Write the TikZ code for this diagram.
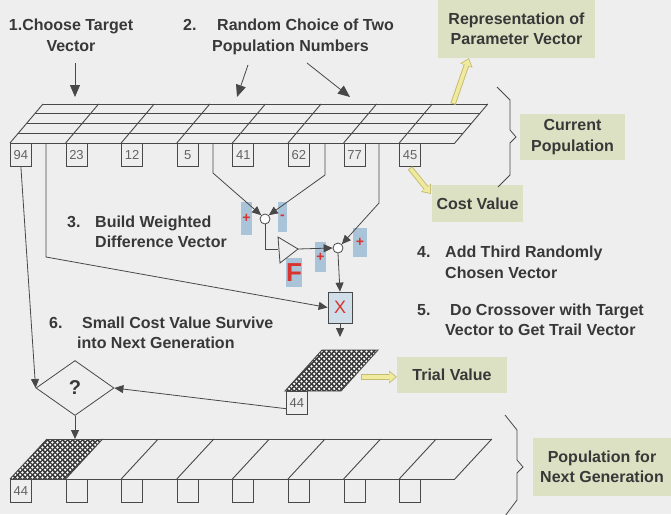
\documentclass[tikz,border=0pt]{standalone}
\usepackage{fontspec}
\setmainfont{Liberation Sans}
\usetikzlibrary{arrows.meta,shapes.geometric,patterns.meta}

\definecolor{bgc}{HTML}{EEEEEE}
\definecolor{ink}{HTML}{383838}
\definecolor{wire}{HTML}{484848}
\definecolor{tagc}{HTML}{DDE1C3}
\definecolor{sig}{HTML}{A9C3D8}
\definecolor{rd}{HTML}{D8332E}
\definecolor{yfill}{HTML}{EFEA9E}
\definecolor{yedge}{HTML}{C4BC72}
\definecolor{meshdark}{HTML}{3A3A3A}

% dense white-dot mesh used for the selected (trial) vector cells
\tikzdeclarepattern{
  name=mesh,
  type=uncolored,
  bounding box={(0pt,0pt) and (4.8pt,4.8pt)},
  tile size={(4.8pt,4.8pt)},
  code={
    \fill (1.2pt,1.2pt) circle (1.3pt);
    \fill (3.6pt,3.6pt) circle (1.3pt);
  }
}

\tikzset{
  gridline/.style={draw=wire, line width=0.9pt},
  wirel/.style={draw=wire, line width=0.8pt},
  arr/.style={wirel, -{Triangle[length=9pt,width=8pt]}},
  bigarr/.style={wirel, -{Triangle[length=12pt,width=10pt]}},
  cost/.style={draw=wire, line width=0.8pt, minimum width=21pt, minimum height=23pt,
    inner sep=0pt, font=\fontsize{13}{13}\selectfont, text=wire!85},
  tag/.style={fill=tagc, inner sep=0pt, align=center,
    font=\bfseries\fontsize{16}{20.5}\selectfont, text=ink},
  txt/.style={inner sep=0pt, font=\bfseries\fontsize{16}{20}\selectfont, text=ink},
  sum/.style={circle, draw=wire, fill=white, line width=0.8pt, minimum size=10pt, inner sep=0pt},
  sgn/.style={fill=sig, inner sep=0pt, text=rd, font=\bfseries\fontsize{14}{14}\selectfont},
  youter/.style={line width=5.5pt, yedge, -{Triangle[length=8pt,width=12.5pt]}},
  yinner/.style={line width=3.6pt, yfill, shorten >=1.3pt, shorten <=0.9pt,
    -{Triangle[length=6.3pt,width=9.6pt]}},
  dia/.style={diamond, draw=wire, line width=0.8pt, minimum width=78pt, minimum height=55pt,
    inner sep=0pt, text=ink, font=\bfseries\fontsize{20}{20}\selectfont}
}

\begin{document}
\begin{tikzpicture}[x=1pt,y=-1pt]
\fill[bgc] (0,0) rectangle (671,514);
\useasboundingbox (0,0) rectangle (671,514);

% ---------- current population: 8 vectors, 4 parameters each ----------
\foreach \t in {0,0.25,0.5,0.75,1}
  \draw[gridline] ({10+33*\t},{143-39*\t}) -- ({454.8+33*\t},{143-39*\t});
\foreach \k in {0,...,8}
  \draw[gridline] ({10+55.6*\k},143) -- ({43+55.6*\k},104);
\foreach \i/\v in {0/94,1/23,2/12,3/5,4/41,5/62,6/77,7/45}
  \node[cost, anchor=north west] (c\i) at ({10+55.6*\i},143) {\v};

% ---------- text blocks ----------
\node[txt, anchor=base] (h1a) at (71,30) {1.Choose Target};
\node[txt, anchor=base] (h1b) at (71,51) {Vector};
\node[txt, anchor=base west] (h2n) at (183,30) {2.};
\node[txt, anchor=base west] (h2a) at (217,30) {Random Choice of Two};
\node[txt, anchor=base west] (h2b) at (212,51) {Population Numbers};

\node[txt, anchor=base west] (h3n) at (67,227) {3.};
\node[txt, anchor=base west] (h3a) at (95,227) {Build Weighted};
\node[txt, anchor=base west] (h3b) at (95,247) {Difference Vector};

\node[txt, anchor=base west] (h4n) at (417,257) {4.};
\node[txt, anchor=base west] (h4a) at (445,257) {Add Third Randomly};
\node[txt, anchor=base west] (h4b) at (445,278) {Chosen Vector};

\node[txt, anchor=base west] (h5n) at (417,315) {5.};
\node[txt, anchor=base west] (h5a) at (450,315) {Do Crossover with Target};
\node[txt, anchor=base west] (h5b) at (445,335) {Vector to Get Trail Vector};

\node[txt, anchor=base west] (h6n) at (49,328) {6.};
\node[txt, anchor=base west] (h6a) at (82,328) {Small Cost Value Survive};
\node[txt, anchor=base west] (h6b) at (77,348) {into Next Generation};

% ---------- highlighted tags ----------
\node[tag, minimum width=157pt, minimum height=58pt] (rep) at (516.5,29)
  {Representation of\\Parameter Vector};
\node[tag, minimum width=105pt, minimum height=46pt] (cur) at (572.5,137)
  {Current\\Population};
\node[tag, minimum width=91pt, minimum height=37pt] (cv) at (477.5,203.5) {Cost Value};
\node[tag, minimum width=110pt, minimum height=36pt] (tvl) at (452,375) {Trial Value};
\node[tag, minimum width=138pt, minimum height=58pt] (png) at (602,467)
  {Population for\\Next Generation};

% ---------- selection arrows at the top ----------
\coordinate (a1s) at (75,63);  \coordinate (a1e) at (75,97);
\coordinate (a2s) at (248,65); \coordinate (a2e) at (237,97);
\coordinate (a3s) at (307,63); \coordinate (a3e) at (350,97);
\draw[bigarr] (a1s) -- (a1e);
\draw[bigarr] (a2s) -- (a2e);
\draw[bigarr] (a3s) -- (a3e);

% ---------- braces ----------
\draw[wirel] (497,87) -- (510,100) -- (510,130) -- (516,137) -- (510,143) -- (510,175) -- (498,187);
\draw[wirel] (505,415) -- (517,430) -- (517,460) -- (523,467) -- (517,473) -- (517,500) -- (505,516);

% ---------- sign markers ----------
\node[sgn, minimum width=11pt, minimum height=33pt] (p1) at (246.5,218.5) {+};
\node[sgn, minimum width=9pt, minimum height=30pt] (m1) at (282.5,217) {-};
\node[sgn, minimum width=11pt, minimum height=30pt] (p2) at (320.5,257) {+};
\node[sgn, minimum width=14pt, minimum height=29pt] (p3) at (360,242.5) {+};
\node[sgn, minimum width=16pt, minimum height=29pt, font=\bfseries\fontsize{26}{26}\selectfont]
  (fk) at (294,272.5) {F};

% ---------- mutation / crossover network ----------
\node[sum] (s1) at (265,219) {};
\node[sum] (s2) at (338,248) {};
\node[draw=wire, line width=0.8pt, fill=sig!55, minimum width=24pt, minimum height=31pt,
  inner sep=0pt, text=rd, font=\fontsize{18}{18}\selectfont] (xb) at (340,307.5) {X};

\coordinate (tg) at (46,143);  \coordinate (tgk) at (46,257);
\coordinate (d1) at (213,143); \coordinate (d1k) at (213,173);
\coordinate (d2) at (325,143); \coordinate (d2k) at (325,175);
\coordinate (d3) at (379,143); \coordinate (d3k) at (379,203);
\coordinate (s1k) at (265,249);
\coordinate (ampin) at (278,249); \coordinate (ampout) at (298,249);
\coordinate (trtop) at (340,337);

\draw[wirel] (278,237) -- (ampout) -- (280,263) -- cycle;

\draw[arr] (d1) -- (d1k) -- (s1.north west);
\draw[arr] (d2) -- (d2k) -- (s1.north east);
\draw[arr] (d3) -- (d3k) -- (s2.north east);
\draw[wirel] (s1.south) -- (s1k) -- (ampin);
\draw[arr] (ampout) -- (s2.west);
\draw[arr] (s2.south) -- (xb.north);
\draw[arr] (tg) -- (tgk) -- (xb.west);
\draw[arr] (xb.south) -- (trtop);

% ---------- trial vector ----------
\fill[meshdark] (285,391) -- (341,391) -- (378,350) -- (322,350) -- cycle;
\fill[pattern=mesh, pattern color=white] (285,391) -- (341,391) -- (378,350) -- (322,350) -- cycle;
\draw[gridline] (285,391) -- (341,391) -- (378,350) -- (322,350) -- cycle;
\node[cost, anchor=north west] (tv) at (286,391) {44};

% ---------- selection ----------
\node[dia] (q) at (75,388) {?};
\coordinate (nb) at (75,439);
\draw[arr] (c0.south) -- (q.west);
\draw[arr] (tv.208) -- (q.east);
\draw[arr] (q.south) -- (nb);

% ---------- next generation ----------
\fill[meshdark] (10,479) -- (65.6,479) -- (102.6,439) -- (47,439) -- cycle;
\fill[pattern=mesh, pattern color=white] (10,479) -- (65.6,479) -- (102.6,439) -- (47,439) -- cycle;
\draw[gridline] (10,479) -- (454.8,479);
\draw[gridline] (47,439) -- (491.8,439);
\foreach \k in {0,...,8}
  \draw[gridline] ({10+55.6*\k},479) -- ({47+55.6*\k},439);
\node[cost, anchor=north west] (b0) at (10,479) {44};
\foreach \i in {1,...,7}
  \node[cost, anchor=north west] (b\i) at ({10+55.6*\i},479) {};

% ---------- yellow call-out arrows ----------
\coordinate (ya1) at (453,104); \coordinate (yb1) at (469,58);
\coordinate (ya2) at (410,168); \coordinate (yb2) at (431,194);
\coordinate (ya3) at (361,377); \coordinate (yb3) at (397,377);
\draw[youter] (ya1) -- (yb1); \draw[yinner] (ya1) -- (yb1);
\draw[youter] (ya2) -- (yb2); \draw[yinner] (ya2) -- (yb2);
\draw[youter] (ya3) -- (yb3); \draw[yinner] (ya3) -- (yb3);
\end{tikzpicture}
\end{document}
